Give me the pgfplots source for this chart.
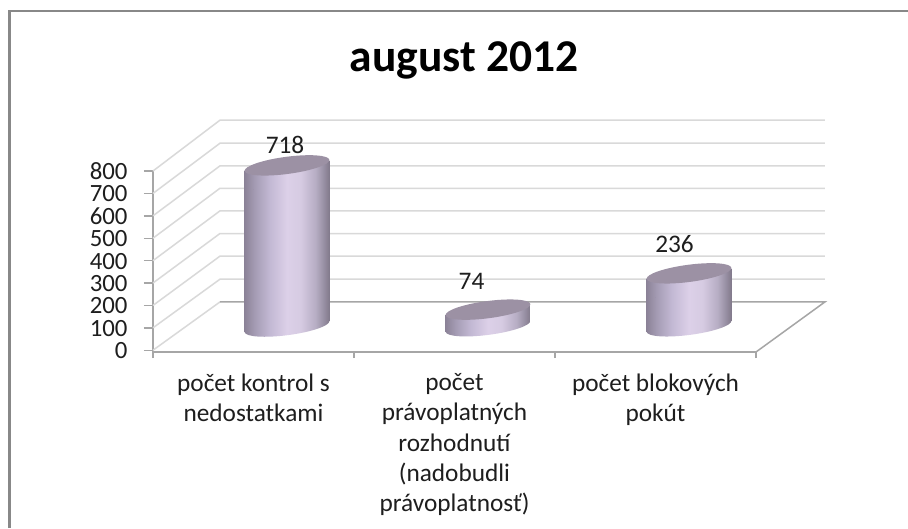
\documentclass[border=0pt]{standalone}
\usepackage{fontspec}
\setmainfont{Carlito}
\usepackage{pgfplots}
\usepackage{pgfplotstable}
\pgfplotsset{compat=1.18}
\definecolor{framec}{HTML}{888888}
\definecolor{gridc}{HTML}{D9D9D9}
\definecolor{axisc}{HTML}{A6A6A6}
\definecolor{textc}{HTML}{1E1E1E}
\definecolor{capc}{HTML}{9C91A4}
\definecolor{cyA}{RGB}{140,131,152}
\definecolor{cyB}{RGB}{165,156,180}
\definecolor{cyC}{RGB}{195,185,212}
\definecolor{cyD}{RGB}{220,208,232}
\definecolor{cyE}{RGB}{214,203,226}
\definecolor{cyF}{RGB}{182,173,195}
\definecolor{cyG}{RGB}{130,122,140}
\pgfdeclarehorizontalshading{cyl}{100bp}{
 color(0bp)=(cyA);
 color(25bp)=(cyA);
 color(31bp)=(cyB);
 color(40bp)=(cyC);
 color(50bp)=(cyD);
 color(58bp)=(cyE);
 color(67bp)=(cyF);
 color(75bp)=(cyG);
 color(100bp)=(cyG)}
\pgfplotstableread{
x y dx dy
0 718 -2 20
1 74 -16.5 28
2 236 -14.5 29
}\cyldata
\begin{document}
\begin{tikzpicture}[x=1pt,y=1pt]
\path[use as bounding box] (0,0) rectangle (908,-528);
\fill[white] (0,0) rectangle (908,-528);
\draw[framec,line width=2.6pt] (9.3,-528) -- (9.3,-11.1) -- (908,-11.1);
\node[font=\fontsize{45.5}{50}\selectfont\bfseries,text=black] at (464,-60) {august 2012};
\begin{axis}[
  at={(153pt,-352pt)},anchor=south west,
  scale only axis,width=603pt,height=181pt,
  xmin=-0.5,xmax=2.5,ymin=-8,ymax=800,
  clip=false,
  axis lines*=left,
  axis line style={-,draw=axisc,line width=1.4pt},
  tick align=outside,
  major tick length=9pt,minor tick length=6pt,
  ytick={0,100,200,300,400,500,600,700,800},
  ytick style={draw=axisc,line width=1.4pt},
  xtick={0,1,2},
  minor xtick={-0.5,0.5,1.5,2.5},
  major x tick style={draw=none},
  minor x tick style={draw=axisc,line width=1.4pt},
  xticklabels={{počet kontrol s\\nedostatkami},{počet\\právoplatných\\rozhodnutí\\(nadobudli\\právoplatnosť)},{počet blokových\\pokút}},
  xticklabel style={align=center,anchor=north,yshift=-9pt,text=textc,
     font=\fontsize{25.3}{30.3}\selectfont},
  yticklabel style={anchor=east,xshift=-13pt,yshift=-0.5pt,text=textc,
     font=\fontsize{24.8}{25}\selectfont},
  /pgf/number format/assume math mode=true,
]
% side wall and back wall grid lines
\addplot[gridc,line width=1.5pt,mark=none] coordinates {(-0.5,100)(-0.1667,317)(2.843,317)};
\addplot[gridc,line width=1.5pt,mark=none] coordinates {(-0.5,200)(-0.1667,420)(2.843,420)};
\addplot[gridc,line width=1.5pt,mark=none] coordinates {(-0.5,300)(-0.1667,521)(2.843,521)};
\addplot[gridc,line width=1.5pt,mark=none] coordinates {(-0.5,400)(-0.1667,622)(2.843,622)};
\addplot[gridc,line width=1.5pt,mark=none] coordinates {(-0.5,500)(-0.1667,723)(2.843,723)};
\addplot[gridc,line width=1.5pt,mark=none] coordinates {(-0.5,600)(-0.1667,823)(2.843,823)};
\addplot[gridc,line width=1.5pt,mark=none] coordinates {(-0.5,700)(-0.1667,924)(2.843,924)};
\addplot[gridc,line width=1.5pt,mark=none] coordinates {(-0.5,800)(-0.1667,1027)(2.843,1027)};
\addplot[gridc,line width=1.5pt,mark=none] coordinates {(-0.5,0)(-0.1667,215.6)};
\addplot[axisc,line width=1.5pt,mark=none] coordinates {(-0.1667,215.6)(2.843,215.6)(2.5,-8)};
% cylinders
\addplot[
  scatter,only marks,mark=*,mark size=0pt,draw=none,fill=none,
  visualization depends on={\thisrow{y} \as \cylv},
  visualization depends on={\thisrow{dx} \as \labdx},
  visualization depends on={\thisrow{dy} \as \labdy},
  scatter/@pre marker code/.code={%
    \scope
    \pgfmathsetmacro\cylh{\cylv*0.2245}%
    \begin{scope}
      \pgftransformshift{\pgfpoint{33.5pt}{24pt}}%
      \begin{scope}
        \clip (-42.3pt,-5pt) -- (-42.3pt,{-\cylh*1pt-5pt}) -- (42.3pt,{-\cylh*1pt+5pt}) -- (42.3pt,5pt) -- cycle
              (0pt,{-\cylh*1pt}) circle[x radius=42.7pt,y radius=8.6pt,rotate=7.5];
        \path[shading=cyl] (-42.3pt,{-\cylh*1pt-14pt}) rectangle (42.3pt,14pt);
      \end{scope}
      \fill[capc] (0pt,0pt) circle[x radius=42.7pt,y radius=8.6pt,rotate=7.5];
    \end{scope}
  },
  nodes near coords*,
  nodes near coords style={anchor=center,xshift=33.5pt+\labdx*1pt,yshift=24pt+\labdy*1pt,text=textc,
     font=\fontsize{25.3}{25}\selectfont},
  /pgf/number format/assume math mode=true,
] table[x=x,y=y] {\cyldata};
\end{axis}
\end{tikzpicture}
\end{document}
